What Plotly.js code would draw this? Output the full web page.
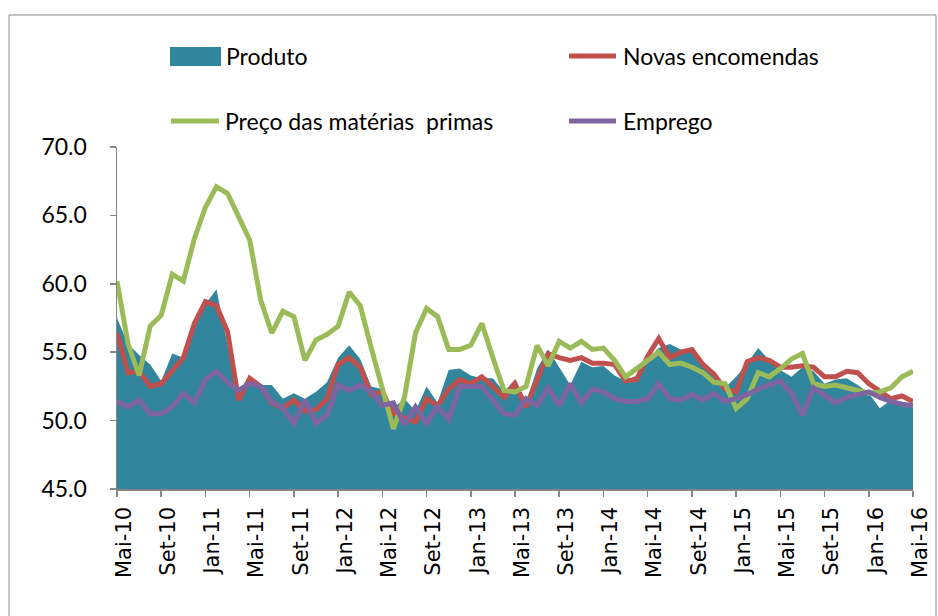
<!DOCTYPE html>
<html>
<head>
<meta charset="utf-8">
<script src="https://cdn.plot.ly/plotly-3.0.1.min.js"></script>
<style>
html,body{margin:0;padding:0;background:#fff;}
#chart{width:938px;height:616px;}
</style>
</head>
<body>
<div id="chart"></div>
<script>
// Categories (monthly, Mai-10 .. Mai-16)
const months = [
"Mai-10","Jun-10","Jul-10","Ago-10","Set-10","Out-10","Nov-10","Dez-10",
"Jan-11","Fev-11","Mar-11","Abr-11","Mai-11","Jun-11","Jul-11","Ago-11","Set-11","Out-11","Nov-11","Dez-11",
"Jan-12","Fev-12","Mar-12","Abr-12","Mai-12","Jun-12","Jul-12","Ago-12","Set-12","Out-12","Nov-12","Dez-12",
"Jan-13","Fev-13","Mar-13","Abr-13","Mai-13","Jun-13","Jul-13","Ago-13","Set-13","Out-13","Nov-13","Dez-13",
"Jan-14","Fev-14","Mar-14","Abr-14","Mai-14","Jun-14","Jul-14","Ago-14","Set-14","Out-14","Nov-14","Dez-14",
"Jan-15","Fev-15","Mar-15","Abr-15","Mai-15","Jun-15","Jul-15","Ago-15","Set-15","Out-15","Nov-15","Dez-15",
"Jan-16","Fev-16","Mar-16","Abr-16","Mai-16"
];
const tickLabels = ["Mai-10","Set-10","Jan-11","Mai-11","Set-11","Jan-12","Mai-12","Set-12","Jan-13","Mai-13","Set-13","Jan-14","Mai-14","Set-14","Jan-15","Mai-15","Set-15","Jan-16","Mai-16"];
const yTicks = [45, 50, 55, 60, 65, 70];

const produto = [
57.5,55.6,54.8,54.1,52.9,54.9,54.6,56.8,58.5,59.6,55.5,52.4,52.9,52.6,52.6,51.6,52.0,51.6,52.1,52.8,
54.6,55.5,54.5,52.5,52.3,50.9,51.6,50.7,52.5,51.3,53.7,53.8,53.3,53.1,53.1,52.1,53.0,51.3,53.8,55.2,
53.9,52.6,54.3,53.9,54.0,53.3,52.9,53.3,54.5,55.3,55.6,55.2,55.0,54.0,53.2,52.4,53.2,54.2,55.3,54.4,
53.7,53.2,53.9,53.6,52.7,53.0,53.1,52.6,52.0,50.9,51.5,51.3,51.0
];
const novasEncomendas = [
56.4,53.5,53.6,52.5,52.7,53.7,54.6,57.1,58.7,58.4,56.5,51.5,53.1,52.5,51.3,50.9,51.5,50.7,50.8,51.6,
54.1,54.6,53.9,51.9,52.1,50.5,50.2,49.9,51.6,51.1,52.3,53.0,52.7,53.2,52.5,51.7,52.7,51.0,53.0,54.9,
54.6,54.4,54.6,54.2,54.2,54.1,52.9,53.0,54.7,56.0,54.6,55.0,55.2,54.1,53.4,52.3,52.1,54.3,54.6,54.4,
53.9,53.9,54.0,53.9,53.2,53.2,53.6,53.5,52.7,52.1,51.6,51.8,51.4
];
const precoMateriasPrimas = [
60.2,55.6,53.3,56.9,57.7,60.7,60.2,63.3,65.6,67.1,66.6,65.0,63.2,58.8,56.4,58.0,57.6,54.4,55.9,56.3,
56.9,59.4,58.4,55.3,52.3,49.4,51.7,56.4,58.2,57.6,55.2,55.2,55.5,57.1,54.6,52.2,52.1,52.5,55.5,54.0,
55.8,55.3,55.8,55.2,55.3,54.4,53.2,53.8,54.5,55.0,54.1,54.2,53.9,53.5,52.8,52.7,50.9,51.6,53.5,53.2,
53.8,54.5,54.9,52.7,52.5,52.6,52.4,52.2,52.0,52.1,52.4,53.2,53.6
];
const emprego = [
51.4,51.0,51.5,50.5,50.5,51.0,52.0,51.3,53.0,53.6,52.8,52.2,52.7,52.5,51.4,50.9,49.8,51.5,49.8,50.4,
52.6,52.2,52.6,52.1,51.1,51.3,49.7,51.0,49.8,51.0,50.1,52.5,52.5,52.5,51.5,50.5,50.4,51.6,51.1,52.4,
51.1,52.7,51.3,52.3,52.1,51.6,51.4,51.4,51.6,52.7,51.6,51.5,51.9,51.5,52.0,51.4,51.6,51.9,52.3,52.6,
52.9,52.0,50.4,52.4,51.9,51.3,51.7,51.9,52.1,51.7,51.4,51.2,51.1
];

const seriesNames = ["Produto","Novas encomendas","Preço das matérias  primas","Emprego"];
const colors = {teal:"#31859C", red:"#C0504D", green:"#9BBB59", purple:"#8064A2"};

// pixel helpers for paper coordinates (plot area 117..913 x, 147..489 y)
const L = 117, R = 913, T = 147, B = 489;
const px = x => (x - L) / (R - L);
const py = y => (B - y) / (B - T);

const traces = [
  {x: months, y: produto, type:"scatter", mode:"lines", fill:"tozeroy",
   fillcolor: colors.teal, line:{width:0, color:colors.teal}, name: seriesNames[0], showlegend:false},
  {x: months, y: novasEncomendas, type:"scatter", mode:"lines",
   line:{width:5, color:colors.red}, name: seriesNames[1], showlegend:false},
  {x: months, y: precoMateriasPrimas, type:"scatter", mode:"lines",
   line:{width:5, color:colors.green}, name: seriesNames[2], showlegend:false},
  {x: months, y: emprego, type:"scatter", mode:"lines",
   line:{width:5, color:colors.purple}, name: seriesNames[3], showlegend:false}
];

const legFont = {family:"Lato, 'Liberation Sans', Arial, sans-serif", size:23, color:"#000"};
const shapes = [
  // outer frame
  {type:"rect", xref:"paper", yref:"paper", x0:px(9), x1:px(936), y0:py(630), y1:py(15),
   line:{color:"#8c8c8c", width:1}, fillcolor:"rgba(0,0,0,0)", layer:"below"},
  // legend symbols
  {type:"rect", xref:"paper", yref:"paper", x0:px(170), x1:px(221), y0:py(66), y1:py(47),
   line:{width:0}, fillcolor:colors.teal},
  {type:"line", xref:"paper", yref:"paper", x0:px(569), x1:px(616), y0:py(56), y1:py(56),
   line:{width:5, color:colors.red}},
  {type:"line", xref:"paper", yref:"paper", x0:px(171), x1:px(219), y0:py(121), y1:py(121),
   line:{width:5, color:colors.green}},
  {type:"line", xref:"paper", yref:"paper", x0:px(569), x1:px(616), y0:py(121), y1:py(121),
   line:{width:5, color:colors.purple}}
];
const annotations = [
  {text:seriesNames[0], x:px(224), y:py(56)},
  {text:seriesNames[1], x:px(621), y:py(56)},
  {text:seriesNames[2], x:px(223), y:py(121)},
  {text:seriesNames[3], x:px(621), y:py(121)}
].map(a => Object.assign(a, {xref:"paper", yref:"paper", xanchor:"left", yanchor:"middle",
   showarrow:false, font:legFont}));

const layout = {
  width:938, height:616,
  margin:{l:L, r:938-R, t:T, b:616-B, pad:0},
  paper_bgcolor:"#fff", plot_bgcolor:"#fff",
  showlegend:false,
  xaxis:{type:"category", range:[0, months.length-1], tickmode:"array",
    tickvals: tickLabels, ticktext: tickLabels, tickangle:-90,
    showgrid:false, zeroline:false, showline:true, linecolor:"#868686", linewidth:1.5,
    ticks:"outside", ticklen:6, tickwidth:1.5, tickcolor:"#868686",
    ticklabelshift:7, ticklabelstandoff:2,
    tickfont:{family:"'DejaVu Sans', Verdana, sans-serif", size:21, color:"#000"}},
  yaxis:{range:[45,70], tickmode:"array", tickvals:yTicks,
    ticktext: yTicks.map(v => v.toFixed(1)),
    showgrid:false, zeroline:false, showline:true, linecolor:"#868686", linewidth:1.5,
    ticks:"outside", ticklen:6, tickwidth:1.5, tickcolor:"#868686", ticklabelstandoff:18,
    tickfont:{family:"Lato, 'Liberation Sans', Arial, sans-serif", size:23, color:"#000"}},
  shapes: shapes,
  annotations: annotations
};

Plotly.newPlot("chart", traces, layout, {staticPlot:true, displayModeBar:false});
</script>
</body>
</html>
